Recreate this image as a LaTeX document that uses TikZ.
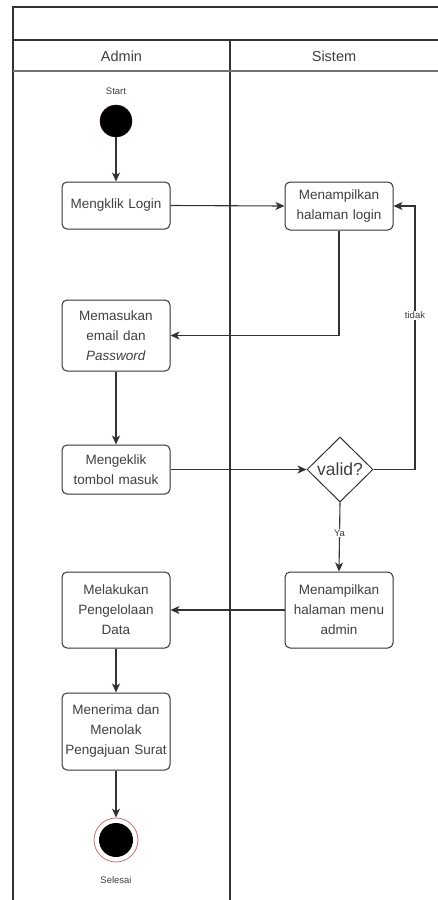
\documentclass[tikz,border=0pt]{standalone}
\usepackage{fontspec}
\setmainfont{Liberation Sans}
\usetikzlibrary{arrows.meta,shapes.geometric}
\definecolor{ink}{HTML}{333333}
\definecolor{txt}{HTML}{404040}
\definecolor{ring}{HTML}{C87470}
\begin{document}
\begin{tikzpicture}[x=1pt,y=-1pt,
  act/.style={draw=ink,line width=1pt,rounded corners=5pt,fill=white,
    minimum width=108pt,text width=106pt,align=center,inner sep=0pt,
    text=txt,font=\fontsize{13.5}{20}\selectfont},
  flow/.style={draw=ink,line width=1.1pt,-{Stealth[length=9pt,width=8pt,inset=2.5pt]}},
  lbl/.style={text=txt,font=\fontsize{9.5}{11}\selectfont,inner sep=1pt},
  lane/.style={text=txt,font=\fontsize{14.5}{16}\selectfont}]
% canvas
\fill[white] (0,0) rectangle (438,900);
\useasboundingbox (0,0) rectangle (438,900);
% pool with two lanes
\draw[ink,line width=1.1pt] (438,7) -- (13,7) -- (13,900);
\draw[ink,line width=1.1pt] (13,40) -- (438,40);
\draw[ink,line width=1.1pt] (230,40) -- (230,900);
\draw[black!55,line width=1.1pt] (13,71) -- (438,71);
\node[lane] (ladmin) at (121.5,56) {Admin};
\node[lane] (lsistem) at (334,56) {Sistem};
% start
\node[lbl] (tstart) at (116,91) {Start};
\node[circle,fill=black,draw=black!80!red,minimum size=32pt,inner sep=0pt] (start) at (116,121) {};
% actions
\node[act,minimum height=47pt] (klik) at (116,205.5) {Mengklik Login};
\node[act,minimum height=48pt] (login) at (339,206) {Menampilkan\\halaman login};
\node[act,minimum height=71pt] (mem) at (116,335.5) {Memasukan\\email dan\\\textit{Password}};
\node[act,minimum height=49pt] (keklik) at (116,469.5) {Mengeklik\\tombol masuk};
\node[diamond,draw=ink,line width=1pt,fill=white,minimum width=66pt,minimum height=65pt,
  inner sep=0pt,text=txt,font=\fontsize{17.5}{20}\selectfont] (valid) at (340,469.5) {valid?};
\node[act,minimum height=76pt] (menu) at (339,610) {Menampilkan\\halaman menu\\admin};
\node[act,minimum height=76pt] (kelola) at (116,610) {Melakukan\\Pengelolaan\\Data};
\node[act,minimum height=77pt] (terima) at (116,731.5) {Menerima dan\\Menolak\\Pengajuan Surat};
% end
\node[circle,draw=ring,line width=0.8pt,fill=white,minimum size=44pt,inner sep=0pt] (end) at (116,840) {};
\node[circle,fill=black,minimum size=34pt,inner sep=0pt] (endin) at (end.center) {};
\node[lbl] (tend) at (116,880) {Selesai};
% connectors
\draw[flow] (start) -- (klik);
\draw[flow] (klik.east) -- (login.west);
\draw[flow] (login.south) |- (mem.east);
\draw[flow] (mem) -- (keklik);
\draw[flow] (keklik.east) -- (valid.west);
\coordinate (loopc) at (415,469.5);
\draw[flow] (valid.east) -- (loopc) |- (login.east) node[pos=0.293,lbl,fill=white] (ttidak) {tidak};
\draw[flow] (valid.south) -- (menu.north) node[pos=0.44,lbl,fill=white] (tya) {Ya};
\draw[flow] (menu.west) -- (kelola.east);
\draw[flow] (kelola) -- (terima);
\draw[flow] (terima) -- (end);
\end{tikzpicture}
\end{document}
